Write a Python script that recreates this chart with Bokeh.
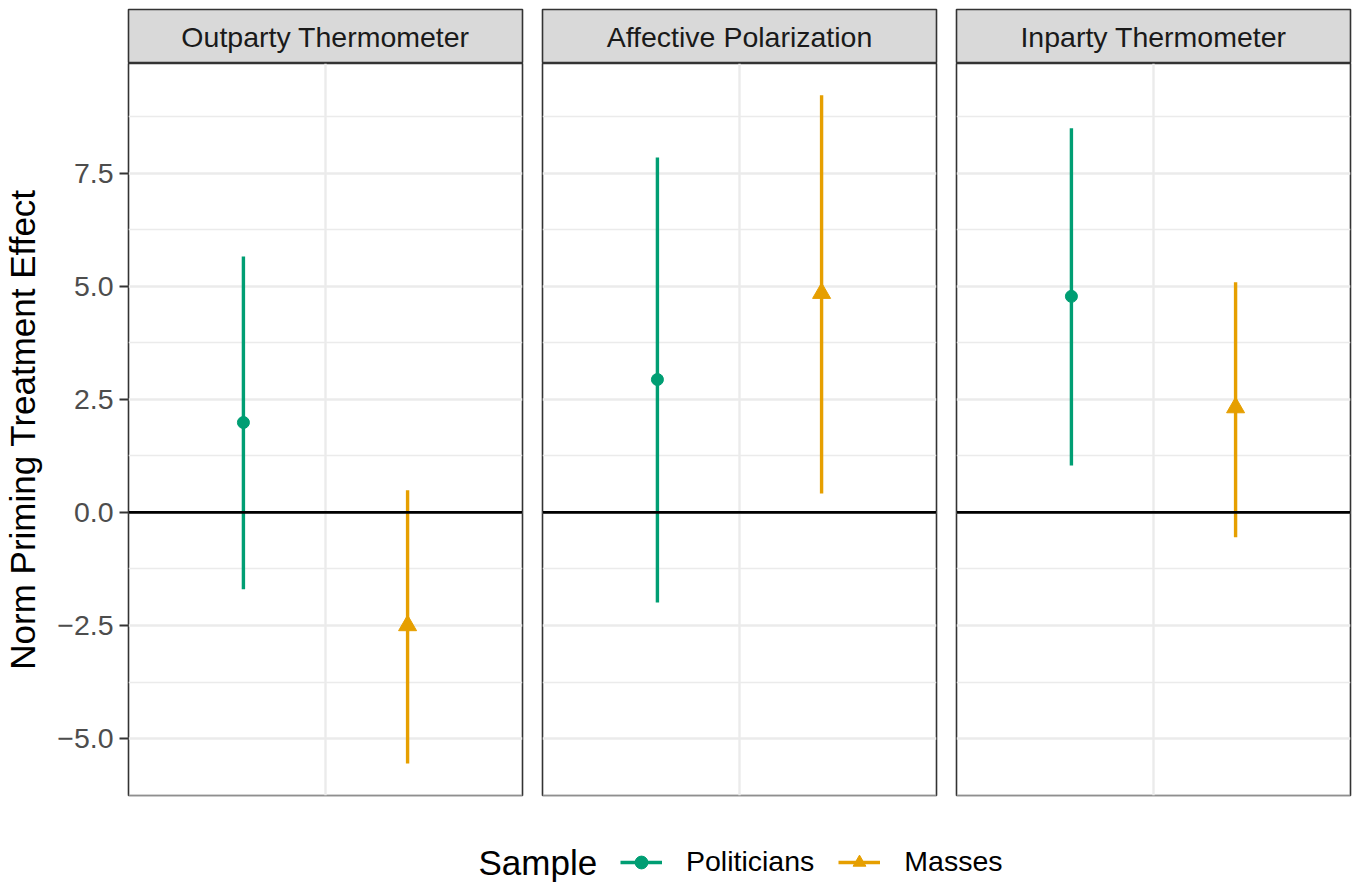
from bokeh.plotting import figure
from bokeh.layouts import column, row
from bokeh.models import (Range1d, FixedTicker, LinearAxis, Grid, Span, Label,
                          Legend, LegendItem, ColumnDataSource, CustomJSTickFormatter)
from bokeh.embed import file_html
from bokeh.resources import INLINE

# ---------------- data ----------------
panels = ["Outparty Thermometer", "Affective Polarization", "Inparty Thermometer"]
samples = ["Politicians", "Masses"]
pol_est = [1.99, 2.94, 4.78]
pol_lo = [-1.70, -1.99, 1.04]
pol_hi = [5.66, 7.85, 8.50]
mas_est = [-2.50, 4.85, 2.32]
mas_lo = [-5.55, 0.42, -0.55]
mas_hi = [0.49, 9.23, 5.09]
y_ticks = [-5.0, -2.5, 0.0, 2.5, 5.0, 7.5]
y_minor = [-6.25, -3.75, -1.25, 1.25, 3.75, 6.25, 8.75]

# ---------------- style ----------------
FONT = "Liberation Sans"
GREEN = "#009E73"
ORANGE = "#E69F00"
BORDER = "#333333"
GRIDC = "#EBEBEB"
SMALL = "28.5px"
LARGE = "35px"
colors = [GREEN, ORANGE]
markers = ["circle", "triangle"]
msizes = [12, 18]
dodge = [0.75, 1.25]
FW, FH, SH = 394, 732, 54
borders = [(128, 10), (10, 10), (10, 8)]

strips = []
figs = []
for i, name in enumerate(panels):
    bl, br = borders[i]
    s = figure(frame_width=FW, frame_height=SH, x_range=Range1d(0, 1), y_range=Range1d(0, 1),
               x_axis_location=None, y_axis_location=None, toolbar_location=None,
               output_backend="svg", min_border_left=bl, min_border_right=br,
               min_border_top=9, min_border_bottom=0)
    s.grid.visible = False
    s.background_fill_color = "#D9D9D9"
    s.outline_line_color = BORDER
    s.outline_line_width = 1.6
    s.add_layout(Label(x=0.5, y=0.5, text=name, text_align="center", text_baseline="middle",
                       text_font=FONT, text_font_size=SMALL, text_color="#1A1A1A"))
    strips.append(s)

    p = figure(frame_width=FW, frame_height=FH, x_range=Range1d(0.4, 1.6),
               y_range=Range1d(-6.26, 9.93), x_axis_location=None, y_axis_location=None,
               toolbar_location=None, output_backend="svg", min_border_left=bl,
               min_border_right=br, min_border_top=0, min_border_bottom=2)
    p.grid.visible = False
    p.outline_line_color = BORDER
    p.outline_line_width = 1.6
    yt = FixedTicker(ticks=y_ticks, minor_ticks=y_minor)
    p.add_layout(Grid(dimension=1, ticker=yt, grid_line_color=GRIDC, grid_line_width=2.4,
                      minor_grid_line_color=GRIDC, minor_grid_line_width=1.3))
    p.add_layout(Grid(dimension=0, ticker=FixedTicker(ticks=[1], minor_ticks=[]),
                      grid_line_color=GRIDC, grid_line_width=2.4))
    if i == 0:
        ax = LinearAxis(ticker=yt,
                        formatter=CustomJSTickFormatter(code="return (tick < 0 ? '\\u2212' : '') + Math.abs(tick).toFixed(1);"),
                        axis_label="Norm Priming Treatment Effect")
        ax.axis_line_color = None
        ax.major_tick_out = 9
        ax.major_tick_in = 0
        ax.minor_tick_out = 0
        ax.minor_tick_in = 0
        ax.major_tick_line_color = BORDER
        ax.major_tick_line_width = 2
        ax.major_label_text_font = FONT
        ax.major_label_text_font_size = SMALL
        ax.major_label_text_color = "#4D4D4D"
        ax.major_label_standoff = 6
        ax.axis_label_text_font = FONT
        ax.axis_label_text_font_size = LARGE
        ax.axis_label_text_font_style = "normal"
        ax.axis_label_text_color = "black"
        ax.axis_label_standoff = 12
        p.add_layout(ax, "left")

    p.add_layout(Span(location=0, dimension="width", line_color="black", line_width=2.8))

    ests = [pol_est[i], mas_est[i]]
    los = [pol_lo[i], mas_lo[i]]
    his = [pol_hi[i], mas_hi[i]]
    for k in range(2):
        src = ColumnDataSource(dict(x=[dodge[k]], y=[ests[k]], lo=[los[k]], hi=[his[k]]))
        p.segment(x0="x", y0="lo", x1="x", y1="hi", source=src, line_color=colors[k],
                  line_width=3.4)
        p.scatter(x="x", y="y", source=src, marker=markers[k], size=msizes[k],
                  fill_color=colors[k], line_color=colors[k])
    figs.append(p)

# ---------------- legend ----------------
lg = figure(frame_width=1358, frame_height=85, x_range=Range1d(0, 1358), y_range=Range1d(0, 85),
            x_axis_location=None, y_axis_location=None, toolbar_location=None,
            output_backend="svg", min_border=0)
lg.grid.visible = False
lg.outline_line_color = None
items = []
nan = float("nan")
for k in range(2):
    src = ColumnDataSource(dict(x=[nan], y=[nan]))
    lr = lg.line(x="x", y="y", source=src, line_color=colors[k], line_width=3.4)
    sr = lg.scatter(x="x", y="y", source=src, marker=markers[k], size=msizes[k],
                    fill_color=colors[k], line_color=colors[k])
    items.append(LegendItem(label=samples[k], renderers=[lr, sr]))
legend = Legend(items=items, orientation="horizontal", location=(620, 4),
                glyph_width=42, glyph_height=32, label_height=32, label_standoff=24,
                spacing=24, padding=0, margin=0, border_line_color=None,
                background_fill_alpha=0, label_text_font=FONT,
                label_text_font_size=SMALL, label_text_color="black",
                label_text_baseline="middle")
lg.add_layout(legend)
lg.add_layout(Label(x=478, y=20, text="Sample", text_baseline="middle", text_font=FONT,
                    text_font_size=LARGE, text_color="black"))

layout = column(row(*strips), row(*figs), lg)
open("out.html", "w").write(file_html(layout, INLINE))
